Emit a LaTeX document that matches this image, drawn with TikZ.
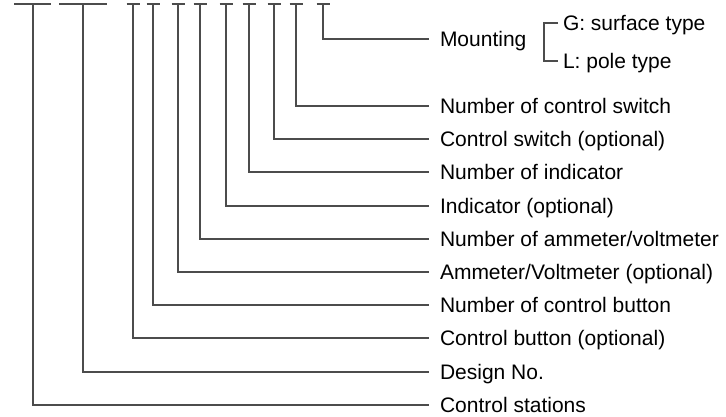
\documentclass[tikz,border=0pt]{standalone}
\usepackage{fontspec}
\setmainfont{Liberation Sans}
\usepackage{tikz}
\usetikzlibrary{positioning,calc}

\begin{document}
\begin{tikzpicture}[
  x=1pt, y=-1pt,
  font=\fontsize{21}{24}\selectfont,
  lbl/.style={anchor=west, inner xsep=0pt, inner ysep=0pt, outer xsep=11pt, outer ysep=0pt,
              text height=15pt, text depth=0pt},
  opt/.style={lbl, outer xsep=5pt},
  lead/.style={draw=black!70, line width=1.1pt},
  bar/.style={lead},
]
\useasboundingbox (0,0) rectangle (726,416);

% code positions along the top
\coordinate (csT) at (33,4);
\coordinate (dnT) at (83,4);
\coordinate (cbT) at (133,4);
\coordinate (ncbT) at (153,4);
\coordinate (amT) at (178,4);
\coordinate (namT) at (200,4);
\coordinate (indT) at (226,4);
\coordinate (nindT) at (249,4);
\coordinate (swT) at (274,4);
\coordinate (nswT) at (296,4);
\coordinate (mntT) at (323,4);

% labels
\node[lbl] (mnt) at (429,39) {Mounting};
\node[opt] (gst) at (558,23) {G: surface type};
\node[opt] (lpt) at (558,61) {L: pole type};
\node[lbl] (nsw) at (429,106) {Number of control switch};
\node[lbl] (sw) at (429,139) {Control switch (optional)};
\node[lbl] (nind) at (429,172) {Number of indicator};
\node[lbl] (ind) at (429,206) {Indicator (optional)};
\node[lbl] (nam) at (429,239) {Number of ammeter/voltmeter};
\node[lbl] (am) at (429,272) {Ammeter/Voltmeter (optional)};
\node[lbl] (ncb) at (429,305) {Number of control button};
\node[lbl] (cb) at (429,338) {Control button (optional)};
\node[lbl] (dn) at (429,372) {Design No.};
\node[lbl] (cs) at (429,405) {Control stations};

% blanks
\draw[bar] ([xshift=-19pt]csT) -- ([xshift=18pt]csT);
\draw[bar] ([xshift=-24pt]dnT) -- ([xshift=24pt]dnT);
\draw[bar] ([xshift=-6.5pt]cbT) -- ([xshift=6.5pt]cbT);
\draw[bar] ([xshift=-6.5pt]ncbT) -- ([xshift=6.5pt]ncbT);
\draw[bar] ([xshift=-6.5pt]amT) -- ([xshift=6.5pt]amT);
\draw[bar] ([xshift=-6.5pt]namT) -- ([xshift=6.5pt]namT);
\draw[bar] ([xshift=-6.5pt]indT) -- ([xshift=6.5pt]indT);
\draw[bar] ([xshift=-6.5pt]nindT) -- ([xshift=6.5pt]nindT);
\draw[bar] ([xshift=-6.5pt]swT) -- ([xshift=6.5pt]swT);
\draw[bar] ([xshift=-6.5pt]nswT) -- ([xshift=6.5pt]nswT);
\draw[bar] ([xshift=-6.5pt]mntT) -- ([xshift=6.5pt]mntT);

% leaders
\draw[lead] (csT) |- (cs.west);
\draw[lead] (dnT) |- (dn.west);
\draw[lead] (cbT) |- (cb.west);
\draw[lead] (ncbT) |- (ncb.west);
\draw[lead] (amT) |- (am.west);
\draw[lead] (namT) |- (nam.west);
\draw[lead] (indT) |- (ind.west);
\draw[lead] (nindT) |- (nind.west);
\draw[lead] (swT) |- (sw.west);
\draw[lead] (nswT) |- (nsw.west);
\draw[lead] (mntT) |- (mnt.west);

% mounting options
\draw[lead] (gst.west) -- ++(-14,0) |- (lpt.west);
\end{tikzpicture}
\end{document}
